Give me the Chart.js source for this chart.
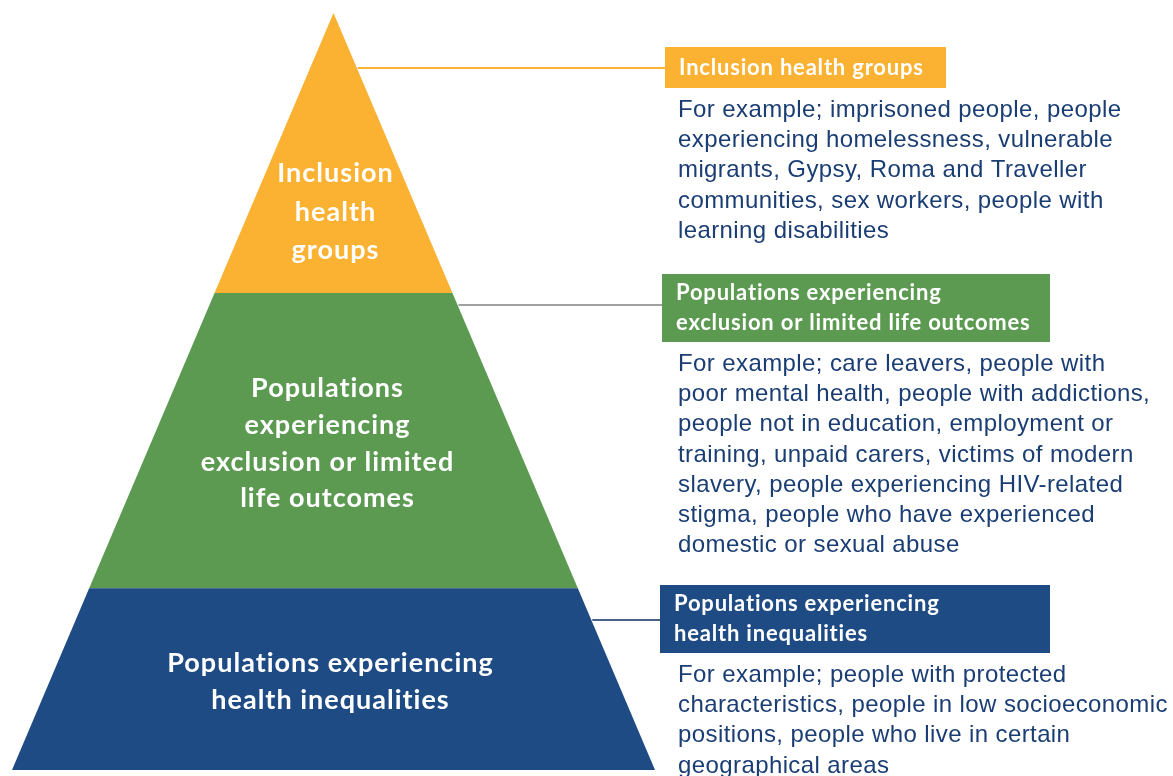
<!DOCTYPE html>
<html>
<head>
<meta charset="utf-8">
<script src="https://cdn.jsdelivr.net/npm/chart.js@4.4.1/dist/chart.umd.min.js"></script>
<style>
  html, body { margin: 0; padding: 0; background: #ffffff; }
  canvas { display: block; }
</style>
</head>
<body>
<canvas id="pyramid" width="1173" height="776"></canvas>
<script>
// pyramid layers, top to bottom
const layerNames = ['Inclusion health groups', 'Populations experiencing exclusion or limited life outcomes', 'Populations experiencing health inequalities'];
const layerShare = [37, 39, 24]; // % of pyramid height
const layerColors = ['#fbb132', '#5c9a52', '#1f4b85'];
const lineColors = ['#fbb132', '#a0a0a0', '#4a6285'];

const innerLabels = [
  ['Inclusion', 'health', 'groups'],
  ['Populations', 'experiencing', 'exclusion or limited', 'life outcomes'],
  ['Populations experiencing', 'health inequalities']
];
const boxTitles = [
  ['Inclusion health groups'],
  ['Populations experiencing', 'exclusion or limited life outcomes'],
  ['Populations experiencing', 'health inequalities']
];
const examples = [
  ['For example; imprisoned people, people', 'experiencing homelessness, vulnerable', 'migrants, Gypsy, Roma and Traveller', 'communities, sex workers, people with', 'learning disabilities'],
  ['For example; care leavers, people with', 'poor mental health, people with addictions,', 'people not in education, employment or', 'training, unpaid carers, victims of modern', 'slavery, people experiencing HIV-related', 'stigma, people who have experienced', 'domestic or sexual abuse'],
  ['For example; people with protected', 'characteristics, people in low socioeconomic', 'positions, people who live in certain', 'geographical areas']
];

// build trapezoids from the layer shares (0 = base, 100 = apex)
var levels = [];
var upper = 100;
layerShare.forEach(s => {
  levels.push([upper - s, upper]);
  upper = upper - s;
});
function halfWidth(h) { return 1 - h / 100; }

var datasets = levels.map((lv, i) => {
  var lo = lv[0], hi = lv[1];
  return {
    label: layerNames[i],
    data: [
      { x: -halfWidth(lo), y: lo },
      { x: -halfWidth(hi), y: hi },
      { x: halfWidth(hi), y: hi },
      { x: halfWidth(lo), y: lo }
    ],
    borderWidth: 0,
    borderColor: 'rgba(0,0,0,0)',
    backgroundColor: layerColors[i],
    pointRadius: 0,
    tension: 0,
    fill: false
  };
});

// fill each layer from the points the line controller placed on the scales
const shapePlugin = {
  id: 'pyramidShapes',
  beforeDatasetsDraw(chart) {
    const c = chart.ctx;
    c.save();
    chart.data.datasets.forEach((ds, i) => {
      var pts = chart.getDatasetMeta(i).data;
      c.fillStyle = ds.backgroundColor;
      c.beginPath();
      pts.forEach((p, k) => {
        if (k === 0) c.moveTo(p.x, p.y);
        else c.lineTo(p.x, p.y);
      });
      c.closePath();
      c.fill();
    });
    c.restore();
  }
};

// right hand side boxes (pixel layout)
const boxes = [
  { x: 665, y: 47, w: 281, h: 41, line: 68 },
  { x: 662, y: 274, w: 388, h: 68, line: 305 },
  { x: 660, y: 585, w: 390, h: 68, line: 620 }
];
const innerStep = [38.5, 36.7, 37];

const textPlugin = {
  id: 'pyramidText',
  afterDatasetsDraw(chart) {
    const c = chart.ctx;
    const xs = chart.scales.x, ys = chart.scales.y;
    c.save();

    // labels inside the pyramid
    c.fillStyle = '#ffffff';
    c.textAlign = 'center';
    c.textBaseline = 'middle';
    c.font = 'bold 27px Lato, "Open Sans", sans-serif';
    c.letterSpacing = '1px';
    levels.forEach((lv, i) => {
      var mid;
      if (i === 0) mid = lv[1] - (lv[1] - lv[0]) * 0.7;
      else mid = (lv[0] + lv[1]) / 2;
      var cy = ys.getPixelForValue(mid) + 3;
      var lines = innerLabels[i];
      var cx = xs.getPixelForValue(0) + [2, -6, -3][i];
      lines.forEach((t, k) => {
        c.fillText(t, cx, cy + (k - (lines.length - 1) / 2) * innerStep[i]);
      });
    });

    // connectors, boxes and example text
    boxes.forEach((b, i) => {
      var yv = ys.getValueForPixel(b.line);
      var edge = xs.getPixelForValue(halfWidth(yv));
      c.strokeStyle = lineColors[i];
      c.lineWidth = 2;
      c.beginPath();
      c.moveTo(edge + 1, b.line);
      c.lineTo(b.x, b.line);
      c.stroke();

      c.fillStyle = layerColors[i];
      c.fillRect(b.x, b.y, b.w, b.h);

      c.fillStyle = '#ffffff';
      c.textAlign = 'left';
      c.textBaseline = 'middle';
      c.font = 'bold 22px Lato, "Open Sans", sans-serif';
      c.letterSpacing = '0.8px';
      var t = boxTitles[i];
      var cy = b.y + b.h / 2;
      t.forEach((s, k) => {
        c.fillText(s, b.x + 14, cy + (k - (t.length - 1) / 2) * 30);
      });

      c.fillStyle = '#1a3d74';
      c.font = '24px "Liberation Sans", Arial, sans-serif';
      c.letterSpacing = '0.4px';
      examples[i].forEach((s, k) => {
        c.fillText(s, 678, b.y + b.h + 22 + k * 30.3);
      });
    });
    c.restore();
  }
};

new Chart(document.getElementById('pyramid'), {
  type: 'line',
  data: { datasets: datasets },
  options: {
    responsive: false,
    animation: false,
    events: [],
    layout: { padding: { left: 12, right: 518, top: 13, bottom: 6 } },
    plugins: { legend: { display: false }, tooltip: { enabled: false } },
    scales: {
      x: { type: 'linear', min: -1, max: 1, display: false },
      y: { type: 'linear', min: 0, max: 100, display: false }
    }
  },
  plugins: [shapePlugin, textPlugin]
});
</script>
</body>
</html>
